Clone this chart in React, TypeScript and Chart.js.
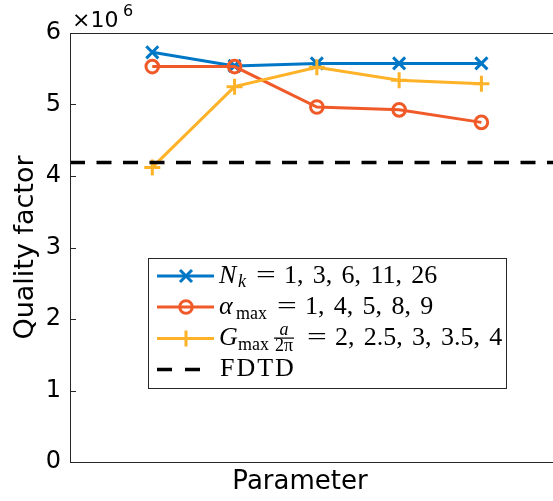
import { useEffect, useRef } from "react";
import { Chart, registerables } from "chart.js";

Chart.register(...registerables);

// Parameter index (1..5) for each sweep
const categories = [1, 2, 3, 4, 5];
// Quality factor (×10^6) for each sweep
const nkValues = [5.73, 5.54, 5.575, 5.575, 5.575];
const alphaValues = [5.53, 5.53, 4.965, 4.925, 4.75];
const gmaxValues = [4.12, 5.25, 5.52, 5.34, 5.29];
const fdtdValue = [4.19];
const yTicks = [0, 1, 2, 3, 4, 5, 6];
const xRange = [0, 5.87];

// Legend value lists
const nkLabels = ["1", "3", "6", "11", "26"];
const alphaLabels = ["1", "4", "5", "8", "9"];
const gmaxLabels = ["2", "2.5", "3", "3.5", "4"];

const BLUE = "#0077C6";
const ORANGE = "#F05A28";
const YELLOW = "#FDB227";
const AXIS = "#262626";
const SANS = '"DejaVu Sans", sans-serif';
const SERIF = '"Liberation Serif", "Times New Roman", serif';

function drawEq(ctx: CanvasRenderingContext2D, cx: number, y: number) {
  ctx.save();
  ctx.font = `26px ${SERIF}`;
  ctx.textAlign = "center";
  ctx.translate(cx, y);
  ctx.scale(1.35, 1);
  ctx.fillText("=", 0, 0);
  ctx.restore();
}

function drawList(ctx: CanvasRenderingContext2D, x0: number, y: number, items: string[]) {
  ctx.font = `26px ${SERIF}`;
  ctx.textAlign = "left";
  let x = x0;
  items.forEach((it, i) => {
    const s = i < items.length - 1 ? it + "," : it;
    ctx.fillText(s, x, y);
    x += ctx.measureText(s).width + 9.3;
  });
}

function marker(ctx: CanvasRenderingContext2D, kind: string, x: number, y: number, color: string) {
  ctx.save();
  ctx.strokeStyle = color;
  ctx.lineWidth = 3;
  ctx.beginPath();
  if (kind === "x") {
    const r = 6;
    ctx.moveTo(x - r, y - r); ctx.lineTo(x + r, y + r);
    ctx.moveTo(x + r, y - r); ctx.lineTo(x - r, y + r);
  } else if (kind === "o") {
    ctx.arc(x, y, 6.3, 0, Math.PI * 2);
  } else {
    const r = 8;
    ctx.moveTo(x - r, y); ctx.lineTo(x + r, y);
    ctx.moveTo(x, y - r); ctx.lineTo(x, y + r);
  }
  ctx.stroke();
  ctx.restore();
}

const decorPlugin = {
  id: "decor",
  afterDraw(chart: any) {
    const ctx: CanvasRenderingContext2D = chart.ctx;
    const { left, top, right, bottom } = chart.chartArea;
    const yScale = chart.scales.y;
    ctx.save();
    // axis box (left, top, bottom)
    ctx.strokeStyle = AXIS;
    ctx.lineWidth = 1;
    ctx.beginPath();
    ctx.moveTo(right, top + 0.5); ctx.lineTo(left + 0.5, top + 0.5);
    ctx.lineTo(left + 0.5, bottom + 0.5); ctx.lineTo(right, bottom + 0.5);
    ctx.stroke();
    // inward tick marks
    ctx.beginPath();
    yTicks.forEach((v) => {
      const py = Math.round(yScale.getPixelForValue(v)) + 0.5;
      ctx.moveTo(left, py); ctx.lineTo(left + 6, py);
    });
    ctx.stroke();

    ctx.fillStyle = "#000";
    // exponent label
    ctx.textBaseline = "alphabetic";
    ctx.textAlign = "left";
    ctx.font = `22px ${SANS}`;
    ctx.fillText("×10", 72, 27);
    ctx.font = `16px ${SANS}`;
    ctx.fillText("6", 123, 16);

    // axis titles
    ctx.font = `26px ${SANS}`;
    ctx.textAlign = "center";
    ctx.fillText("Parameter", 300, 489);
    ctx.save();
    ctx.font = `27px ${SANS}`;
    ctx.translate(33, (top + bottom) / 2);
    ctx.rotate(-Math.PI / 2);
    ctx.fillText("Quality factor", 0, 0);
    ctx.restore();

    // legend
    const bx = 148.5, by = 258.5, bw = 358, bh = 130;
    ctx.fillStyle = "#fff";
    ctx.fillRect(bx, by, bw, bh);
    ctx.strokeStyle = AXIS;
    ctx.lineWidth = 1;
    ctx.strokeRect(bx, by, bw, bh);

    const rows = [
      { y: 276, color: BLUE, mk: "x" },
      { y: 307, color: ORANGE, mk: "o" },
      { y: 338.5, color: YELLOW, mk: "+" },
    ];
    rows.forEach((r) => {
      ctx.strokeStyle = r.color;
      ctx.lineWidth = 3;
      ctx.beginPath();
      ctx.moveTo(157, r.y); ctx.lineTo(214, r.y);
      ctx.stroke();
      marker(ctx, r.mk, 186, r.y, r.color);
    });
    ctx.strokeStyle = "#000";
    ctx.lineWidth = 3.5;
    ctx.beginPath();
    ctx.moveTo(157, 369.5); ctx.lineTo(172, 369.5);
    ctx.moveTo(185, 369.5); ctx.lineTo(200, 369.5);
    ctx.stroke();

    ctx.fillStyle = "#000";
    ctx.textAlign = "left";
    // N_k = ...
    ctx.font = `italic 26px ${SERIF}`;
    ctx.fillText("N", 219, 283);
    ctx.font = `italic 18px ${SERIF}`;
    ctx.fillText("k", 238, 287);
    drawEq(ctx, 266, 283);
    drawList(ctx, 284, 283, nkLabels);

    // α_max = ...
    ctx.font = `italic 26px ${SERIF}`;
    ctx.fillText("α", 219, 314);
    ctx.font = `18px ${SERIF}`;
    ctx.fillText("max", 236, 319);
    drawEq(ctx, 287, 314);
    drawList(ctx, 305, 314, alphaLabels);

    // G_max a/2π = ...
    ctx.font = `italic 26px ${SERIF}`;
    ctx.fillText("G", 219, 345);
    ctx.font = `18px ${SERIF}`;
    ctx.fillText("max", 238, 350);
    ctx.textAlign = "center";
    ctx.font = `italic 18px ${SERIF}`;
    ctx.fillText("a", 284, 335);
    ctx.font = `18px ${SERIF}`;
    ctx.fillText("2π", 284, 351);
    ctx.fillRect(274, 337.5, 20, 1.2);
    drawEq(ctx, 317, 345);
    drawList(ctx, 335, 345, gmaxLabels);

    ctx.textAlign = "left";
    ctx.font = `26px ${SERIF}`;
    (ctx as any).letterSpacing = "2px";
    ctx.fillText("FDTD", 220, 376);
    (ctx as any).letterSpacing = "0px";
    ctx.restore();
  },
};

export default function App() {
  const ref = useRef<HTMLCanvasElement>(null);
  useEffect(() => {
    if (!ref.current) return;
    const pts = (vals: number[]) => vals.map((v, i) => ({ x: categories[i], y: v }));
    const common = { borderWidth: 3, pointBorderWidth: 3, pointBackgroundColor: "rgba(0,0,0,0)", tension: 0, clip: false as any };
    const chart = new Chart(ref.current, {
      type: "line",
      data: {
        datasets: [
          {
            label: "FDTD",
            data: [{ x: xRange[0], y: fdtdValue[0] }, { x: xRange[1], y: fdtdValue[0] }],
            borderColor: "#000",
            borderWidth: 3.5,
            borderDash: [15, 11.5],
            pointRadius: 0,
            order: 0,
          },
          {
            label: "Gmax",
            data: pts(gmaxValues),
            borderColor: YELLOW,
            pointBorderColor: YELLOW,
            pointStyle: "cross",
            pointRadius: 8,
            order: 1,
            ...common,
          },
          {
            label: "alpha",
            data: pts(alphaValues),
            borderColor: ORANGE,
            pointBorderColor: ORANGE,
            pointStyle: "circle",
            pointRadius: 6.3,
            order: 2,
            ...common,
          },
          {
            label: "Nk",
            data: pts(nkValues),
            borderColor: BLUE,
            pointBorderColor: BLUE,
            pointStyle: "crossRot",
            pointRadius: 8.5,
            order: 3,
            ...common,
          },
        ],
      },
      options: {
        animation: false,
        responsive: false,
        maintainAspectRatio: false,
        devicePixelRatio: 1,
        layout: { autoPadding: false, padding: { top: 33, right: 0, left: 0, bottom: 39 } },
        plugins: { legend: { display: false }, tooltip: { enabled: false } },
        scales: {
          x: {
            type: "linear",
            display: false,
            min: xRange[0],
            max: xRange[1],
          },
          y: {
            min: yTicks[0],
            max: yTicks[yTicks.length - 1],
            grid: { display: false, drawTicks: false, tickLength: 0 },
            border: { display: false },
            afterBuildTicks: (s: any) => { s.ticks = yTicks.map((v) => ({ value: v })); },
            ticks: {
              color: "#000",
              padding: 9,
              font: { family: "DejaVu Sans", size: 24 },
              callback: (v: any) => String(v),
            },
            afterFit: (s: any) => { s.width = 70; },
          },
        },
      },
      plugins: [decorPlugin],
    });
    return () => chart.destroy();
  }, []);
  return (
    <div style={{ position: "absolute", left: 0, top: 0, width: 553, height: 501, background: "#fff" }}>
      <canvas ref={ref} width={553} height={501} style={{ display: "block", width: 553, height: 501 }} />
    </div>
  );
}
